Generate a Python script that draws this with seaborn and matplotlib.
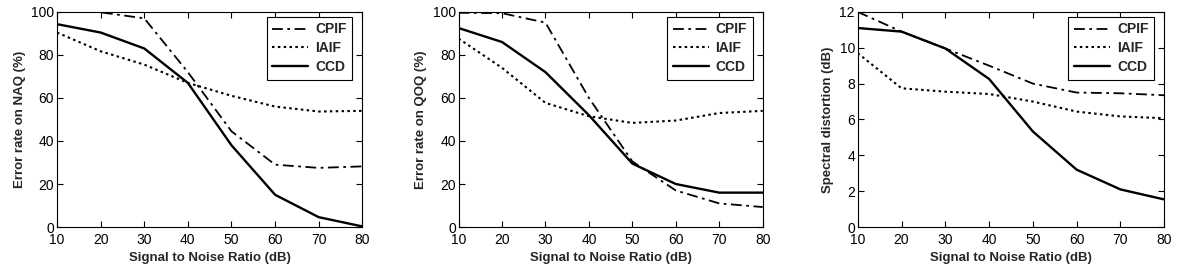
import matplotlib
matplotlib.use("Agg")
import matplotlib.pyplot as plt
import seaborn as sns
import numpy as np

snr = [10, 20, 30, 40, 50, 60, 70, 80]

naq_cpif = [102, 99.8, 97, 72, 44.5, 29, 27.5, 28.2]
naq_iaif = [90.4, 81.7, 75.5, 67, 61, 56, 53.7, 54]
naq_ccd = [94.3, 90.4, 83, 67, 38, 15, 4.6, 0.3]

qoq_cpif = [99.6, 99.4, 95, 60, 30.5, 17, 11, 9.3]
qoq_iaif = [87.6, 74, 57.7, 51.5, 48.4, 49.5, 53, 54]
qoq_ccd = [92.5, 86, 72, 52, 29.5, 20, 16, 16]

sd_cpif = [12.0, 10.9, 9.96, 9.0, 8.0, 7.5, 7.46, 7.35]
sd_iaif = [9.7, 7.74, 7.55, 7.42, 7.0, 6.44, 6.17, 6.07]
sd_ccd = [11.1, 10.9, 9.96, 8.26, 5.33, 3.2, 2.1, 1.54]

series_names = ["CPIF", "IAIF", "CCD"]
x_label = "Signal to Noise Ratio (dB)"
y_labels = ["Error rate on NAQ (%)", "Error rate on QOQ (%)", "Spectral distortion (dB)"]

sns.set_style("ticks")
plt.rcParams["font.family"] = ["Liberation Sans", "DejaVu Sans"]

fig = plt.figure(figsize=(11.88, 2.7), dpi=100)
lefts = [0.048, 0.386, 0.722]
widths = [0.257, 0.256, 0.258]
bottom, height = 0.159, 0.797

panels = [
    ([naq_cpif, naq_iaif, naq_ccd], (0, 100), np.arange(0, 101, 20)),
    ([qoq_cpif, qoq_iaif, qoq_ccd], (0, 100), np.arange(0, 101, 20)),
    ([sd_cpif, sd_iaif, sd_ccd], (0, 12), np.arange(0, 13, 2)),
]
styles = [(0, (6, 2.5, 1.5, 2.5)), (0, (1.2, 1.6)), "-"]
lws = [1.3, 1.5, 1.7]

for i, (data, ylim, yticks) in enumerate(panels):
    ax = fig.add_axes([lefts[i], bottom, widths[i], height])
    for name, vals, ls, lw in zip(series_names, data, styles, lws):
        sns.lineplot(x=snr, y=vals, ax=ax, color="black", linestyle=ls,
                     linewidth=lw, label=name)
    ax.set_xlim(10, 80)
    ax.set_ylim(*ylim)
    ax.set_xticks(snr)
    ax.set_yticks(yticks)
    ax.tick_params(direction="in", top=True, right=True, length=4,
                   width=0.8, labelsize=10, colors="black", pad=2)
    ax.tick_params(axis="x", pad=4)
    for sp in ax.spines.values():
        sp.set_visible(True)
        sp.set_color("black")
        sp.set_linewidth(0.8)
    ax.set_xlabel(x_label, fontsize=9.5, fontweight="bold", labelpad=4)
    ax.set_ylabel(y_labels[i], fontsize=9.5, fontweight="bold", labelpad=4)
    leg = ax.legend(loc="upper right", bbox_to_anchor=(0.967, 0.977),
                    frameon=True, fancybox=False,
                    edgecolor="black", framealpha=1, borderaxespad=0,
                    handlelength=2.6, handletextpad=0.5,
                    prop={"size": 10, "weight": "bold"}, borderpad=0.4,
                    labelspacing=0.35)
    leg.get_frame().set_linewidth(0.8)

fig.savefig("out.png", dpi=100)
